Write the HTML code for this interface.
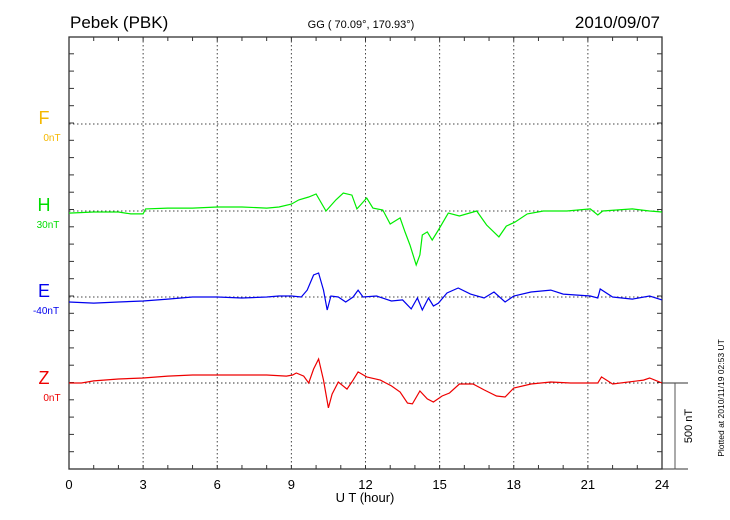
<!DOCTYPE html>
<html><head><meta charset="utf-8"><style>
body{margin:0;background:#fff;}
svg{display:block;font-family:"Liberation Sans",sans-serif;}
</style></head><body>
<svg id="chart" width="730" height="520">
<text x="70" y="28" font-size="17">Pebek (PBK)</text>
<text x="361" y="28" font-size="11" text-anchor="middle">GG ( 70.09°, 170.93°)</text>
<text x="660" y="28" font-size="17" text-anchor="end">2010/09/07</text>
<text x="44" y="124" font-size="18" fill="#f5b800" text-anchor="middle">F</text>
<text x="52" y="141" font-size="10" fill="#f5b800" text-anchor="middle">0nT</text>
<text x="44" y="211" font-size="18" fill="#00dd00" text-anchor="middle">H</text>
<text x="48" y="228" font-size="10" fill="#00dd00" text-anchor="middle">30nT</text>
<text x="44" y="297" font-size="18" fill="#0000ee" text-anchor="middle">E</text>
<text x="46" y="314" font-size="10" fill="#0000ee" text-anchor="middle">-40nT</text>
<text x="44" y="384" font-size="18" fill="#ee0000" text-anchor="middle">Z</text>
<text x="52" y="401" font-size="10" fill="#ee0000" text-anchor="middle">0nT</text>
<text x="365" y="502" font-size="13" text-anchor="middle">U T (hour)</text>
<text transform="translate(692,426) rotate(-90)" font-size="11" text-anchor="middle">500 nT</text>
<text transform="translate(724,398) rotate(-90)" font-size="8.5" text-anchor="middle">Plotted at 2010/11/19 02:53 UT</text>
</svg>
<script>
const xTicks=[0,3,6,9,12,15,18,21,24];
const hT=[0,1,2,2.5,3,3.1,4,5,6,7,8,8.5,9,9.3,9.7,10.0,10.4,10.8,11.1,11.45,11.65,11.8,12.05,12.3,12.7,13.0,13.4,13.6,13.8,14.05,14.2,14.3,14.5,14.7,14.95,15.35,15.8,16.5,16.9,17.4,17.7,18.05,18.55,19.2,20.15,21.1,21.4,21.6,22.8,23.5,24];
const hV=[-12,-6,-6,-17,-17,12,17,17,23,23,17,23,40,64,81,98,0,64,104,92,12,35,75,17,6,-75,-40,-121,-197,-312,-254,-139,-121,-168,-110,-12,-29,0,-81,-150,-87,-64,-17,0,0,12,-23,0,12,0,-6];
const eT=[0,1,2,3,4,5,6,7,8,8.5,9,9.4,9.64,9.9,10.1,10.3,10.45,10.6,10.9,11.2,11.5,11.7,11.9,12.45,13.05,13.5,13.85,14.1,14.3,14.55,14.75,14.95,15.3,15.75,16.25,16.8,17.2,17.65,18.0,18.7,19.5,20.0,21.1,21.4,21.5,22.0,22.8,23.5,24];
const eV=[-29,-35,-29,-23,-12,0,0,-6,0,6,6,0,40,127,139,40,-75,6,0,-29,0,40,0,6,-23,-17,-69,-6,-75,-6,-52,-35,23,52,17,-6,29,-29,6,29,40,17,6,-6,46,0,-12,6,-17];
const zT=[0,0.5,1,2,3,4,5,6,7,8,8.8,9.05,9.2,9.5,9.7,9.9,10.1,10.3,10.5,10.65,10.9,11.25,11.5,11.7,12.05,12.6,13.05,13.4,13.7,13.9,14.2,14.5,14.75,15.1,15.4,15.8,16.35,16.8,17.3,17.65,18.0,18.7,19.5,20.3,21.4,21.55,22.0,23.25,23.5,24];
const zV=[0,0,12,23,29,40,46,46,46,46,40,46,58,40,0,81,139,17,-144,-64,6,-35,17,64,35,17,-17,-52,-116,-121,-46,-92,-110,-75,-58,-6,-6,-40,-75,-81,-29,-6,6,0,0,35,-6,17,29,0];

const L=69,R=662,T=37,B=469;
const PXNT=86.5/500;
const xs=t=>L+t*(R-L)/24;
const bases={F:124,H:211,E:297,Z:383};
const svg=document.getElementById('chart');
const NS='http://www.w3.org/2000/svg';
function mk(tag,attrs){const e=document.createElementNS(NS,tag);for(const k in attrs)e.setAttribute(k,attrs[k]);svg.appendChild(e);return e;}
// grid
xTicks.slice(1,-1).forEach(t=>{const g=mk('line',{x1:xs(t),x2:xs(t),y1:T,y2:B,stroke:'#444','stroke-dasharray':'1.5,2.5','stroke-width':1});

});
[124,211,297].forEach(y=>{const g=mk('line',{x1:L,x2:R,y1:y,y2:y,stroke:'#444','stroke-dasharray':'1.5,2.5','stroke-width':1});

});
// ticks
for(let h=0;h<=24;h++){const x=xs(h);
const a=mk('line',{x1:x,x2:x,y1:T,y2:T+4,stroke:'#333'});
const b=mk('line',{x1:x,x2:x,y1:B,y2:B-4,stroke:'#333'});}
for(let y=B;y>=T;y-=86.5/5){
const a=mk('line',{x1:L,x2:L+5,y1:y,y2:y,stroke:'#333'});
const b=mk('line',{x1:R,x2:R-5,y1:y,y2:y,stroke:'#333'});}
// frame
const fr=mk('rect',{x:L,y:T,width:R-L,height:B-T,fill:'none',stroke:'#333','stroke-width':1.3});


const zl=mk('line',{x1:L,x2:688,y1:383,y2:383,stroke:'#333','stroke-dasharray':'1.5,2.5'});


const zl2=mk('line',{x1:R,x2:688,y1:383,y2:383,stroke:'#333'});


const bl=mk('line',{x1:R,x2:688,y1:B,y2:B,stroke:'#333'});


const sb=mk('line',{x1:675,x2:675,y1:383,y2:383+500*PXNT,stroke:'#555'});


// x labels
xTicks.forEach(t=>{const e=mk('text',{x:xs(t),y:489,'font-size':13,'text-anchor':'middle'});e.textContent=t;

});
// series
function series(ts,vs,base,color,name){
const d=ts.map((t,i)=>(i?'L':'M')+xs(t).toFixed(1)+','+(base-vs[i]*PXNT).toFixed(1)).join('');
const p=mk('path',{d:d,fill:'none',stroke:color,'stroke-width':1.2});

}
series(hT,hV,bases.H,'#00ee00','h-series');
series(eT,eV,bases.E,'#0000ee','e-series');
series(zT,zV,bases.Z,'#ee0000','z-series');
</script>
</body></html>
